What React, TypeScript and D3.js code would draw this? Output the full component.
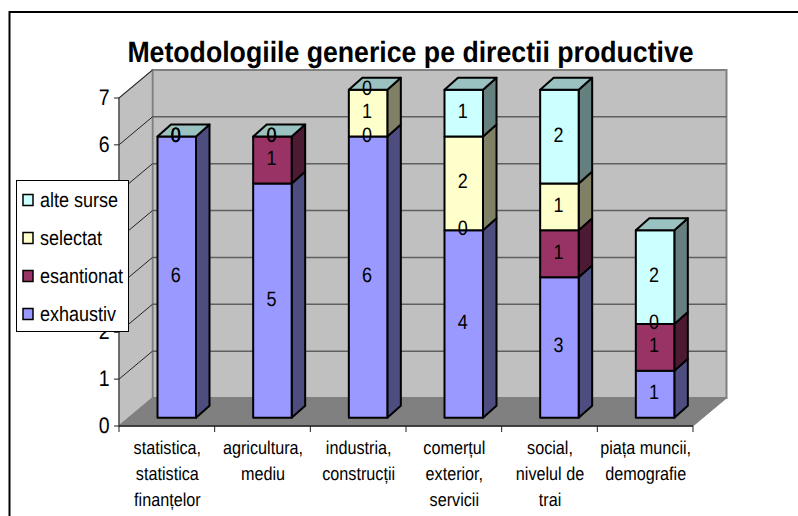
import React from "react";
import * as d3 from "d3";

const title = "Metodologiile generice pe directii productive";
const categories = [
  ["statistica,", "statistica", "finanțelor"],
  ["agricultura,", "mediu"],
  ["industria,", "construcții"],
  ["comerțul", "exterior,", "servicii"],
  ["social,", "nivelul de", "trai"],
  ["piața muncii,", "demografie"],
];
const seriesNames = ["exhaustiv", "esantionat", "selectat", "alte surse"];
const exhaustiv = [6, 5, 6, 4, 3, 1];
const esantionat = [0, 1, 0, 0, 1, 1];
const selectat = [0, 0, 1, 2, 1, 0];
const alteSurse = [0, 0, 0, 1, 2, 2];
const yTicks = [0, 1, 2, 3, 4, 5, 6, 7];

const front = ["#9999FF", "#993366", "#FFFFCC", "#CCFFFF"];
const side = ["#4D4D80", "#4D1A33", "#808066", "#668080"];
const topFace = ["#7373BF", "#73264D", "#BFBF99", "#99C2C0"];
const FONT = "'Liberation Sans', Arial, sans-serif";

const W = 798, H = 516;
const depthX = 33.5, depthY = -28;
const barDX = 13.5, barDY = -12;

const y = d3.scaleLinear().domain([0, 7]).range([426, 98]);
const x = d3.scaleBand().domain(categories.map((_, i) => String(i))).range([119, 693]);
const barInset = 38.5;
const barW = 38.5;
const barBase = 417.7 - 426;

const rows = categories.map((_, i) => ({
  i: String(i),
  exhaustiv: exhaustiv[i],
  esantionat: esantionat[i],
  selectat: selectat[i],
  "alte surse": alteSurse[i],
}));
const stacked = d3.stack<any>().keys(seriesNames)(rows);

const poly = (pts: number[][]) => pts.map((p) => p.join(",")).join(" ");

function Txt({ x, y, size, sx = 1, sy = 1.15, anchor = "middle", weight, children }: any) {
  return (
    <text transform={`translate(${x},${y}) scale(${sx},${sy})`} textAnchor={anchor} fontSize={size}
      fontWeight={weight} fill="#000" textRendering="geometricPrecision">{children}</text>
  );
}

export default function App() {
  const x0 = x.range()[0], x1 = x.range()[1];
  const y0 = y(0), y7 = y(7);
  return (
    <svg width={W} height={H} viewBox={`0 0 ${W} ${H}`}
      style={{ position: "fixed", left: 0, top: 0, background: "#fff", fontFamily: FONT }}>
      <path d={`M9.5 ${H} V12 H${W}`} fill="none" stroke="#000" strokeWidth={2} />
      <Txt x={410.5} y={61.5} size={26} sx={1.026} sy={1.13} weight="bold">{title}</Txt>

      {/* walls */}
      <polygon points={poly([[x0 + depthX, y7 + depthY], [x1 + depthX, y7 + depthY], [x1 + depthX, y0 + depthY], [x0 + depthX, y0 + depthY]])}
        fill="#C0C0C0" stroke="#808080" strokeWidth={2} />
      <polygon points={poly([[x0, y7], [x0 + depthX, y7 + depthY], [x0 + depthX, y0 + depthY], [x0, y0]])}
        fill="#C0C0C0" stroke="#808080" strokeWidth={1.5} />
      <polygon points={poly([[x0, y0], [x0 + depthX, y0 + depthY], [x1 + depthX, y0 + depthY], [x1, y0]])}
        fill="#808080" stroke="#808080" strokeWidth={1} />

      {/* gridlines */}
      {yTicks.slice(1).map((t) => (
        <g key={t}>
          {t < 7 && <line x1={x0 + depthX} x2={x1 + depthX} y1={y(t) + depthY} y2={y(t) + depthY} stroke="#5f5f5f" strokeWidth={1.5} />}
          <line x1={x0} x2={x0 + depthX} y1={y(t)} y2={y(t) + depthY} stroke="#222" strokeWidth={1} />
        </g>
      ))}

      {/* axes */}
      <line x1={x0} x2={x0} y1={y7} y2={y0} stroke="#404040" strokeWidth={1} />
      <line x1={x0} x2={x1} y1={y0} y2={y0} stroke="#202020" strokeWidth={1.5} />
      {yTicks.map((t) => (
        <g key={t}>
          <line x1={x0 - 5} x2={x0} y1={y(t)} y2={y(t)} stroke="#202020" strokeWidth={1} />
          <Txt x={109.5} y={y(t) + 7} size={19.5} anchor="end">{t}</Txt>
        </g>
      ))}
      {categories.map((lines, i) => {
        const left = x(String(i))!;
        return (
          <g key={i}>
            <line x1={left} x2={left} y1={y0} y2={y0 + 6} stroke="#202020" strokeWidth={1} />
            {lines.map((l, k) => (
              <Txt key={k} x={left + x.bandwidth() / 2 + 0.5} y={453.5 + k * 26} size={16.2}>{l}</Txt>
            ))}
          </g>
        );
      })}
      <line x1={x1} x2={x1} y1={y0} y2={y0 + 6} stroke="#202020" strokeWidth={1} />

      {/* bars */}
      {categories.map((_, i) => {
        const bx = x(String(i))! + barInset;
        return (
          <g key={i} stroke="#000" strokeWidth={2} strokeLinejoin="round">
            {stacked.map((s, si) => {
              const yb = y(s[i][0]) + barBase, yt = y(s[i][1]) + barBase;
              const r = bx + barW;
              return (
                <g key={si}>
                  {yb > yt && <polygon points={poly([[r, yb], [r + barDX, yb + barDY], [r + barDX, yt + barDY], [r, yt]])} fill={side[si]} />}
                  {yb > yt && <rect x={bx} y={yt} width={barW} height={yb - yt} fill={front[si]} />}
                  {si === stacked.length - 1 && (
                    <polygon points={poly([[bx, yt], [bx + barDX, yt + barDY], [r + barDX, yt + barDY], [r, yt]])} fill={topFace[si]} />
                  )}
                </g>
              );
            })}
          </g>
        );
      })}

      {/* data labels */}
      {categories.map((_, i) => {
        const bx = x(String(i))! + barInset;
        return stacked.map((s, si) => {
          const mid = (y(s[i][0]) + y(s[i][1])) / 2 + barBase;
          return (
            <Txt key={`${i}-${si}`} x={bx + barW / 2 - 1} y={mid + 5} size={18}>
              {s[i][1] - s[i][0]}
            </Txt>
          );
        });
      })}

      {/* legend */}
      <rect x={16.5} y={180.5} width={112} height={151} fill="#fff" stroke="#000" strokeWidth={1} />
      {[...seriesNames].reverse().map((name, k) => {
        const cy = 200 + k * 38;
        const si = seriesNames.length - 1 - k;
        return (
          <g key={name}>
            <rect x={23} y={cy - 5.5} width={10} height={11} fill={front[si]} stroke="#000" strokeWidth={1.5} />
            <Txt x={40} y={cy + 6.5} size={18} anchor="start">{name}</Txt>
          </g>
        );
      })}
    </svg>
  );
}
